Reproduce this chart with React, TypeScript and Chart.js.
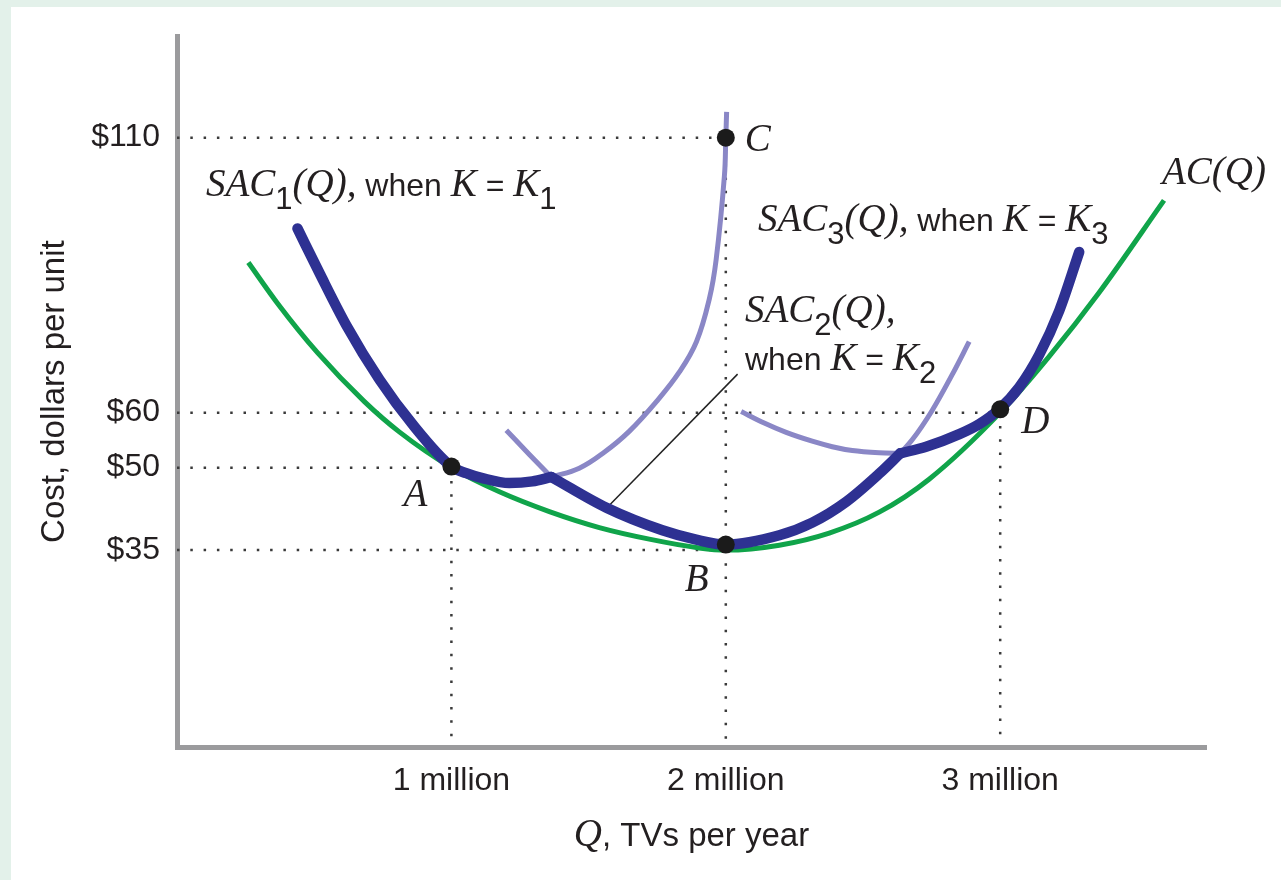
import React, { useEffect, useRef } from "react";
import { Chart, registerables } from "chart.js";

Chart.register(...registerables);

// ---- axis ticks ----
const xTickValues = [1, 2, 3];
const xTickLabels = ["1 million", "2 million", "3 million"];
const yTickValues = [35, 50, 60, 110];
const yTickLabels = ["$35", "$50", "$60", "$110"];

// ---- long-run average cost AC(Q) ----
const acQ = [0.26, 0.366, 0.512, 0.683, 0.81, 1.0, 1.175, 1.357, 1.539, 1.721, 1.903, 2.0, 2.195, 2.377, 2.559, 2.741, 3.0, 3.178, 3.36, 3.597];
const acC = [87.3, 79.9, 70.9, 62.0, 56.5, 50.0, 45.6, 42.0, 39.1, 37.0, 35.4, 35.0, 35.9, 38.1, 41.9, 47.9, 60.0, 70.2, 81.8, 98.6];

// ---- SAC1 (thick part, then light continuation) ----
const sac1Q = [0.439, 0.519, 0.618, 0.738, 0.858, 1.0, 1.054, 1.113, 1.211, 1.295, 1.364];
const sac1C = [93.5, 85.4, 75.8, 66.0, 57.9, 50.2, 49.0, 48.1, 47.2, 47.5, 48.3];
const sac1LightQ = [1.364, 1.466, 1.557, 1.648, 1.747, 1.831, 1.893, 1.94, 1.965, 1.995, 2.0, 2.003];
const sac1LightC = [48.3, 49.9, 52.8, 56.6, 62.0, 67.4, 72.9, 80.7, 87.9, 103.1, 110.0, 114.7];

// ---- SAC2 (light left, thick middle, light right) ----
const sac2LeftQ = [1.2, 1.284, 1.364];
const sac2LeftC = [56.8, 52.4, 48.3];
const sac2Q = [1.364, 1.565, 1.769, 1.892, 2.0, 2.195, 2.315, 2.439, 2.559, 2.636];
const sac2C = [48.3, 42.7, 38.6, 36.9, 36.0, 37.7, 40.0, 43.8, 48.9, 52.6];
const sac2RightQ = [2.636, 2.68, 2.752, 2.825, 2.887];
const sac2RightC = [52.6, 55.1, 60.4, 66.9, 72.9];

// ---- SAC3 (light left, thick right) ----
const sac3LeftQ = [2.056, 2.14, 2.22, 2.315, 2.388, 2.461, 2.559, 2.636];
const sac3LeftC = [60.2, 58.1, 56.4, 54.8, 53.8, 53.1, 52.7, 52.6];
const sac3Q = [2.636, 2.73, 2.851, 2.923, 2.996, 3.069, 3.142, 3.215, 3.288];
const sac3C = [52.6, 53.8, 56.1, 57.9, 60.6, 64.6, 70.5, 78.5, 89.2];

// ---- marked points ----
const pointNames = ["A", "B", "C", "D"];
const pointQ = [1.0, 2.0, 2.0, 3.0];
const pointC = [50.2, 36.0, 110.0, 60.6];

// ---- dotted guides ----
const guideHValues = [110, 60, 50, 35];
const guideHEnds = [2, 3, 1, 2];
const guideVValues = [1, 2, 3];
const guideVTops = [50, 110, 60];

// ---- leader line for SAC2 label ----
const leaderQ = [1.565, 2.043];
const leaderC = [42.6, 67.0];

const GREEN = "#10a44a";
const DARK = "#2e3192";
const LIGHT = "#8a87c6";
const TEXT = "#231f20";
const SANS = '"Liberation Sans", Arial, sans-serif';
const SERIF = '"Liberation Serif", "Times New Roman", serif';

const zip = (xs: number[], ys: number[]) => xs.map((x, i) => ({ x, y: ys[i] }));

type Seg = { t: string; k: "it" | "sans" | "sub" };

function drawRich(ctx: CanvasRenderingContext2D, x: number, y: number, segs: Seg[], sansSize = 32) {
  let cx = x;
  for (const s of segs) {
    let dy = 0;
    if (s.k === "it") ctx.font = `italic 39px ${SERIF}`;
    else if (s.k === "sans") ctx.font = `${sansSize}px ${SANS}`;
    else {
      ctx.font = `31px ${SANS}`;
      dy = 13;
    }
    ctx.fillText(s.t, cx, y + dy);
    cx += ctx.measureText(s.t).width;
  }
}

const textPlugin = {
  id: "textPlugin",
  beforeDraw(chart: any) {
    const { ctx, width, height } = chart;
    ctx.save();
    ctx.fillStyle = "#e3f1ea";
    ctx.fillRect(0, 0, width, height);
    ctx.fillStyle = "#ffffff";
    ctx.fillRect(11, 7, width - 11, height - 7);
    ctx.restore();
  },
  afterDraw(chart: any) {
    const { ctx, chartArea } = chart;
    const xs = chart.scales.x;
    const ys = chart.scales.y;
    ctx.save();
    ctx.fillStyle = TEXT;
    ctx.textBaseline = "alphabetic";
    ctx.textAlign = "left";

    drawRich(ctx, 206, 196, [
      { t: "SAC", k: "it" }, { t: "1", k: "sub" }, { t: "(Q),", k: "it" },
      { t: " when ", k: "sans" }, { t: "K", k: "it" }, { t: " = ", k: "sans" },
      { t: "K", k: "it" }, { t: "1", k: "sub" },
    ]);
    drawRich(ctx, 758, 231, [
      { t: "SAC", k: "it" }, { t: "3", k: "sub" }, { t: "(Q),", k: "it" },
      { t: " when ", k: "sans" }, { t: "K", k: "it" }, { t: " = ", k: "sans" },
      { t: "K", k: "it" }, { t: "3", k: "sub" },
    ]);
    drawRich(ctx, 745, 322, [
      { t: "SAC", k: "it" }, { t: "2", k: "sub" }, { t: "(Q),", k: "it" },
    ]);
    drawRich(ctx, 745, 370, [
      { t: "when ", k: "sans" }, { t: "K", k: "it" }, { t: " = ", k: "sans" },
      { t: "K", k: "it" }, { t: "2", k: "sub" },
    ]);
    drawRich(ctx, 1162, 184, [{ t: "AC(Q)", k: "it" }]);

    // point labels
    const offs = [
      [-48, 39],
      [-41, 46],
      [19, 13],
      [21, 24],
    ];
    ctx.font = `italic 39px ${SERIF}`;
    pointNames.forEach((n, i) => {
      const px = xs.getPixelForValue(pointQ[i]);
      const py = ys.getPixelForValue(pointC[i]);
      ctx.fillText(n, px + offs[i][0], py + offs[i][1]);
    });

    // x axis title (mixed fonts)
    ctx.font = `italic 39px ${SERIF}`;
    const w1 = ctx.measureText("Q").width;
    ctx.font = `33px ${SANS}`;
    const w2 = ctx.measureText(", TVs per year").width;
    const cx = (chartArea.left + chartArea.right) / 2;
    const start = cx - (w1 + w2) / 2;
    drawRich(ctx, start, 846, [
      { t: "Q", k: "it" }, { t: ", TVs per year", k: "sans" },
    ], 33);
    ctx.restore();
  },
};

export default function App() {
  const ref = useRef<HTMLCanvasElement | null>(null);
  useEffect(() => {
    if (!ref.current) return;
    const dotted = (pts: { x: number; y: number }[]) => ({
      data: pts,
      borderColor: "#3a3a3a",
      borderWidth: 2.5,
      borderDash: [2.5, 10.8],
      pointRadius: 0,
      tension: 0,
      fill: false,
    });
    const curve = (
      pts: { x: number; y: number }[],
      color: string,
      w: number,
      cap: string,
      mode: string = "monotone"
    ) => ({
      data: pts,
      borderColor: color,
      borderWidth: w,
      borderCapStyle: cap,
      borderJoinStyle: "round",
      pointRadius: 0,
      tension: 0.4,
      cubicInterpolationMode: mode,
      fill: false,
    });

    const datasets: any[] = [
      {
        data: zip(pointQ, pointC),
        showLine: false,
        pointRadius: 9,
        pointBackgroundColor: "#1b1b1b",
        pointBorderWidth: 0,
        borderWidth: 0,
      },
      curve(zip(sac1Q, sac1C), DARK, 10.5, "round"),
      curve(zip(sac2Q, sac2C), DARK, 10.5, "round"),
      curve(zip(sac3Q, sac3C), DARK, 10.5, "round"),
      curve(zip(acQ, acC), GREEN, 5, "butt"),
      curve(zip(sac1LightQ, sac1LightC), LIGHT, 5, "butt", "default"),
      curve(zip(sac2LeftQ, sac2LeftC), LIGHT, 5, "butt"),
      curve(zip(sac2RightQ, sac2RightC), LIGHT, 5, "butt"),
      curve(zip(sac3LeftQ, sac3LeftC), LIGHT, 5, "butt"),
      {
        data: zip(leaderQ, leaderC),
        borderColor: "#222",
        borderWidth: 1.5,
        pointRadius: 0,
        tension: 0,
        fill: false,
      },
      ...guideHValues.map((v, i) => dotted([{ x: 0, y: v }, { x: guideHEnds[i], y: v }])),
      ...guideVValues.map((v, i) => dotted([{ x: v, y: guideVTops[i] }, { x: v, y: 0 }])),
    ];

    const chart = new Chart(ref.current, {
      type: "line",
      data: { datasets },
      options: {
        animation: false,
        responsive: false,
        devicePixelRatio: 1,
        layout: { padding: { left: 0, top: 33, right: 75, bottom: 0 } },
        plugins: { legend: { display: false }, tooltip: { enabled: false } },
        events: [],
        scales: {
          x: {
            type: "linear",
            min: 0,
            max: 3.75,
            grid: { display: false, drawTicks: false },
            border: { display: true, color: "#9b9b9d", width: 5 },
            afterBuildTicks: (s: any) => {
              s.ticks = xTickValues.map((v) => ({ value: v }));
            },
            afterFit: (s: any) => {
              s.height = 133;
            },
            ticks: {
              autoSkip: false,
              maxRotation: 0,
              padding: 15,
              color: TEXT,
              font: { family: SANS, size: 32 },
              callback: (v: any) => {
                const i = xTickValues.indexOf(Number(v));
                return i >= 0 ? xTickLabels[i] : "";
              },
            },
          },
          y: {
            type: "linear",
            min: -0.8,
            max: 128.45,
            grid: { display: false, drawTicks: false },
            border: { display: true, color: "#9b9b9d", width: 5 },
            afterBuildTicks: (s: any) => {
              s.ticks = yTickValues.map((v) => ({ value: v }));
            },
            afterFit: (s: any) => {
              s.width = 177;
            },
            title: {
              display: true,
              text: "Cost, dollars per unit",
              color: TEXT,
              font: { family: SANS, size: 33 },
              padding: { top: 35, bottom: 0 },
            },
            ticks: {
              autoSkip: false,
              padding: 17,
              color: TEXT,
              font: { family: SANS, size: 32 },
              callback: (v: any) => {
                const i = yTickValues.indexOf(Number(v));
                return i >= 0 ? yTickLabels[i] : "";
              },
            },
          },
        },
      },
      plugins: [textPlugin],
    } as any);
    return () => chart.destroy();
  }, []);

  return (
    <div style={{ position: "absolute", left: 0, top: 0, width: 1281, height: 880 }}>
      <canvas ref={ref} width={1281} height={880} style={{ display: "block" }} />
    </div>
  );
}
